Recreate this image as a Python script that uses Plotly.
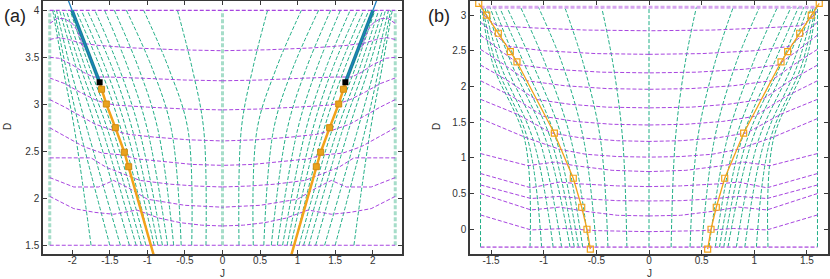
import plotly.graph_objects as go

# ---------------- data ----------------
# Panel (a): critical line
A_CRIT_J = [-0.90, -1.249, -1.307, -1.427, -1.547, -1.61, -1.636]
A_CRIT_D = [1.35, 2.336, 2.49, 2.751, 3.003, 3.16, 3.234]
A_TEAL_J = [-1.636, -2.004]
A_TEAL_D = [3.234, 4.0]
A_BLUE_J = [-1.636, -2.004, -2.06]
A_BLUE_D = [3.234, 4.0, 4.12]

# Panel (a): green curves (right half, mirrored), J at these D levels
A_GREEN_D = [1.5, 2.73, 3.37, 4.0]
A_GREEN_J = [
    [0.22, 0.25, 0.40, 0.60],
    [0.41, 0.46, 0.71, 1.05],
    [0.55, 0.68, 0.93, 1.28],
    [0.65, 0.86, 1.11, 1.44],
    [0.73, 1.00, 1.25, 1.57],
    [0.80, 1.11, 1.37, 1.70],
    [0.86, 1.20, 1.46, 1.80],
    [0.91, 1.28, 1.55, 1.88],
    [0.96, 1.35, 1.62, 1.95],
    [1.02, 1.46, 1.76, 2.03],
    [1.08, 1.53, 1.82, 2.08],
    [1.15, 1.60, 1.88, 2.13],
    [1.24, 1.68, 1.94, 2.17],
    [1.36, 1.80, 2.02, 2.21],
    [1.50, 1.90, 2.08, 2.24],
    [1.75, 1.97, 2.12, 2.26],
]
A_BOUND_J = [-2.3, 0.0, 2.3]
A_EDGE_D = [1.5, 4.0]

# Panel (a): purple curves (left half, mirrored), (J, D) pairs
A_PURPLE = [
    [(-2.3, 3.86), (-2.2, 3.915), (-2.1, 3.91), (-2.0, 3.86), (-1.93, 3.78), (-1.88, 3.68), (-1.84, 3.58)],
    [(-2.3, 3.69), (-2.18, 3.71), (-2.05, 3.69), (-1.89, 3.65), (-1.63, 3.625), (-1.2, 3.60), (-0.6, 3.58), (0, 3.57)],
    [(-2.3, 3.50), (-2.18, 3.49), (-2.0, 3.42), (-1.85, 3.34), (-1.72, 3.29), (-1.5, 3.29), (-1.0, 3.275), (-0.5, 3.258), (0, 3.25)],
    [(-2.3, 3.28), (-2.1, 3.22), (-1.9, 3.13), (-1.7, 3.05), (-1.56, 3.01), (-1.4, 2.99), (-1.0, 2.97), (-0.5, 2.95), (0, 2.94)],
    [(-2.3, 3.05), (-2.1, 2.97), (-1.9, 2.88), (-1.7, 2.79), (-1.45, 2.72), (-1.25, 2.68), (-0.9, 2.65), (-0.45, 2.622), (0, 2.61)],
    [(-2.3, 2.75), (-2.1, 2.66), (-1.85, 2.55), (-1.6, 2.48), (-1.32, 2.46), (-1.15, 2.42), (-0.8, 2.39), (-0.4, 2.36), (0, 2.35)],
    [(-2.3, 2.43), (-2.05, 2.43), (-1.75, 2.43), (-1.55, 2.33), (-1.25, 2.24), (-1.1, 2.19), (-0.7, 2.15), (-0.35, 2.13), (0, 2.12)],
    [(-2.3, 2.22), (-1.98, 2.12), (-1.65, 2.12), (-1.45, 2.19), (-1.25, 2.11), (-1.0, 1.99), (-0.5, 1.925), (0, 1.905)],
    [(-2.3, 2.02), (-1.98, 1.89), (-1.7, 1.85), (-1.45, 1.83), (-1.14, 1.875), (-0.85, 1.79), (-0.56, 1.74), (-0.28, 1.714), (0, 1.705)],
]
A_STRAIGHT_D = [4.0, 1.5]

# Panel (b): critical line
B_CRIT_J = [-1.617, -1.541, -1.431, -1.317, -1.254, -0.899, -0.719, -0.639, -0.589, -0.557]
B_CRIT_D = [3.165, 3.0, 2.745, 2.487, 2.343, 1.345, 0.714, 0.308, 0.0, -0.28]

# Panel (b): green curves (right half, mirrored)
B_GREEN_D = [-0.25, 1.25, 2.3, 3.11]
B_GREEN_J = [
    [0.21, 0.25, 0.34, 0.45],
    [0.39, 0.46, 0.62, 0.80],
    [0.50, 0.62, 0.82, 1.05],
    [0.57, 0.74, 0.98, 1.22],
    [0.63, 0.82, 1.10, 1.35],
    [0.67, 0.88, 1.18, 1.42],
    [0.71, 0.93, 1.25, 1.47],
    [0.75, 0.98, 1.30, 1.51],
    [0.83, 1.04, 1.36, 1.54],
    [0.91, 1.10, 1.41, 1.56],
    [1.02, 1.15, 1.45, 1.58],
    [1.13, 1.18, 1.48, 1.59],
]
B_BOUND_J = [-1.6, 0.0, 1.6]
B_EDGE_D = [-0.25, 3.11]

# Panel (b): purple curves (left half, mirrored)
B_PURPLE = [
    [(-1.6, 3.06), (-1.52, 2.93), (-1.44, 2.85), (-1.1, 2.82), (-0.6, 2.79), (0, 2.78)],
    [(-1.6, 2.90), (-1.45, 2.71), (-1.33, 2.56), (-1.0, 2.50), (-0.5, 2.46), (0, 2.45)],
    [(-1.6, 2.72), (-1.4, 2.49), (-1.22, 2.30), (-0.9, 2.24), (-0.45, 2.20), (0, 2.19)],
    [(-1.6, 2.52), (-1.38, 2.31), (-1.16, 2.08), (-0.8, 2.01), (-0.4, 1.97), (0, 1.96)],
    [(-1.6, 2.30), (-1.35, 2.09), (-1.08, 1.82), (-0.75, 1.75), (-0.4, 1.71), (0, 1.70)],
    [(-1.6, 2.08), (-1.3, 1.86), (-1.0, 1.58), (-0.7, 1.51), (-0.35, 1.47), (0, 1.46)],
    [(-1.6, 1.82), (-1.25, 1.61), (-0.93, 1.35), (-0.65, 1.28), (-0.3, 1.24), (0, 1.23)],
    [(-1.6, 1.55), (-1.18, 1.29), (-0.85, 1.12), (-0.6, 1.05), (-0.3, 1.018), (0, 1.01)],
    [(-1.6, 1.06), (-1.15, 0.89), (-0.9, 0.94), (-0.7, 0.89), (-0.35, 0.825), (0, 0.807)],
    [(-1.6, 0.78), (-1.12, 0.58), (-0.85, 0.66), (-0.65, 0.635), (-0.3, 0.607), (0, 0.597)],
    [(-1.6, 0.62), (-1.12, 0.43), (-0.85, 0.46), (-0.6, 0.425), (-0.3, 0.40), (0, 0.396)],
    [(-1.6, 0.50), (-1.12, 0.27), (-0.85, 0.31), (-0.6, 0.25), (-0.3, 0.195), (0, 0.186)],
    [(-1.6, 0.20), (-1.12, -0.01), (-0.8, 0.01), (-0.5, -0.02), (0, -0.034)],
]

A_XTICKS = [-2, -1.5, -1, -0.5, 0, 0.5, 1, 1.5, 2]
A_YTICKS = [1.5, 2, 2.5, 3, 3.5, 4]
B_XTICKS = [-1.5, -1, -0.5, 0, 0.5, 1, 1.5]
B_YTICKS = [0, 0.5, 1, 1.5, 2, 2.5, 3]

# ---------------- styling ----------------
GREEN = '#1fae86'
GREEN_LIGHT = '#a6ddc9'
PURPLE = '#a845e0'
PURPLE_LIGHT = '#d7a6ef'
ORANGE = '#f2a21a'
TEAL = '#15858f'
BLUE = '#1f7fc0'
DASH = '4px,2px'
W, H = 830, 279

fig = go.Figure()


def add(x, y, xa, ya, color, width, dash=DASH, shape='linear', mode='lines', marker=None):
    fig.add_trace(go.Scatter(x=x, y=y, xaxis=xa, yaxis=ya, mode=mode,
                             line=dict(color=color, width=width, dash=dash, shape=shape),
                             marker=marker, hoverinfo='skip', showlegend=False))


def fmt(v):
    return '%g' % v


# ---- panel (a) ----
for row in A_GREEN_J:
    add(row, A_GREEN_D, 'x', 'y', GREEN, 1, shape='spline')
    add([-v for v in row], A_GREEN_D, 'x', 'y', GREEN, 1, shape='spline')
for j in A_BOUND_J:
    add([j, j], A_EDGE_D, 'x', 'y', GREEN_LIGHT, 3)
for curve in A_PURPLE:
    xs = [p[0] for p in curve]
    ys = [p[1] for p in curve]
    add(xs, ys, 'x', 'y', PURPLE, 1)
    add([-v for v in xs], ys, 'x', 'y', PURPLE, 1)
for d in A_STRAIGHT_D:
    add([A_BOUND_J[0], A_BOUND_J[-1]], [d, d], 'x', 'y', PURPLE, 1.2)

for sgn in (1, -1):
    add([sgn * v for v in A_TEAL_J], A_TEAL_D, 'x', 'y', TEAL, 3.5, dash='solid')
    add([sgn * v for v in A_BLUE_J], A_BLUE_D, 'x', 'y', BLUE, 1.3, dash='solid')
    add([sgn * v for v in A_CRIT_J], A_CRIT_D, 'x', 'y', ORANGE, 2.5, dash='solid')
    add([sgn * v for v in A_CRIT_J[1:-1]], A_CRIT_D[1:-1], 'x', 'y', ORANGE, 1, mode='markers',
        marker=dict(symbol='square', size=6, color='#e9a21c', line=dict(color='#d08a10', width=1)))
    add([sgn * A_CRIT_J[-1]], [A_CRIT_D[-1]], 'x', 'y', 'black', 1, mode='markers',
        marker=dict(symbol='square', size=6, color='black'))

# ---- panel (b) ----
for row in B_GREEN_J:
    add(row, B_GREEN_D, 'x2', 'y2', GREEN, 1, shape='spline')
    add([-v for v in row], B_GREEN_D, 'x2', 'y2', GREEN, 1, shape='spline')
for j in B_BOUND_J:
    add([j, j], B_EDGE_D, 'x2', 'y2', GREEN, 1)
for curve in B_PURPLE:
    xs = [p[0] for p in curve]
    ys = [p[1] for p in curve]
    add(xs, ys, 'x2', 'y2', PURPLE, 1)
    add([-v for v in xs], ys, 'x2', 'y2', PURPLE, 1)
add([B_BOUND_J[0], B_BOUND_J[-1]], [B_EDGE_D[1]] * 2, 'x2', 'y2', PURPLE_LIGHT, 3)
add([B_BOUND_J[0], B_BOUND_J[-1]], [B_EDGE_D[0]] * 2, 'x2', 'y2', '#c27ae6', 1.8)
for sgn in (1, -1):
    add([sgn * v for v in B_CRIT_J], B_CRIT_D, 'x2', 'y2', ORANGE, 1.3, dash='solid', mode='lines+markers',
        marker=dict(symbol='square-open', size=6, color=ORANGE, line=dict(width=1.2)))

axis_common = dict(showgrid=False, zeroline=False, showline=True, linecolor='#3a3a3a', linewidth=1.5,
                   mirror='ticks', ticks='inside', ticklen=4, tickcolor='#3a3a3a', tickwidth=1,
                   tickfont=dict(family='Liberation Sans, Arial, sans-serif', size=10, color='#333'))

fig.update_layout(
    width=W, height=H, margin=dict(l=0, r=0, t=0, b=0),
    paper_bgcolor='white', plot_bgcolor='white',
    xaxis=dict(domain=[43 / W, 402 / W], range=[-2.39, 2.39], anchor='y', ticklabelstandoff=-4,
               tickvals=A_XTICKS, ticktext=[fmt(v) for v in A_XTICKS], **axis_common),
    yaxis=dict(domain=[1 - 254 / H, 1 - 1 / H], range=[1.407, 4.099], anchor='x',
               tickvals=A_YTICKS, ticktext=[fmt(v) for v in A_YTICKS], **axis_common),
    xaxis2=dict(domain=[470 / W, 828 / W], range=[-1.7, 1.7], anchor='y2', ticklabelstandoff=-4,
                tickvals=B_XTICKS, ticktext=[fmt(v) for v in B_XTICKS], **axis_common),
    yaxis2=dict(domain=[1 - 254 / H, 1 - 1 / H], range=[-0.347, 3.197], anchor='x2',
                tickvals=B_YTICKS, ticktext=[fmt(v) for v in B_YTICKS], **axis_common),
)

lab_font = dict(family='Liberation Sans, Arial, sans-serif', size=10, color='#333')
annots = [
    dict(text='(a)', x=2 / W, y=1 - 16 / H, xanchor='left', yanchor='middle',
         font=dict(family='Liberation Sans, Arial, sans-serif', size=18, color='#222')),
    dict(text='(b)', x=426 / W, y=1 - 16 / H, xanchor='left', yanchor='middle',
         font=dict(family='Liberation Sans, Arial, sans-serif', size=18, color='#222')),
    dict(text='J', x=222 / W, y=1 - 273 / H, xanchor='center', yanchor='middle', font=lab_font),
    dict(text='D', x=8 / W, y=1 - 127 / H, xanchor='center', yanchor='middle', textangle=-90, font=lab_font),
    dict(text='J', x=649 / W, y=1 - 273 / H, xanchor='center', yanchor='middle', font=lab_font),
    dict(text='D', x=437 / W, y=1 - 127 / H, xanchor='center', yanchor='middle', textangle=-90, font=lab_font),
]
for a in annots:
    a.update(xref='paper', yref='paper', showarrow=False)
fig.update_layout(annotations=annots)

fig.write_html('out.html', config={'displayModeBar': False},
               post_script="document.body.style.margin='0';document.body.style.padding='0';")
